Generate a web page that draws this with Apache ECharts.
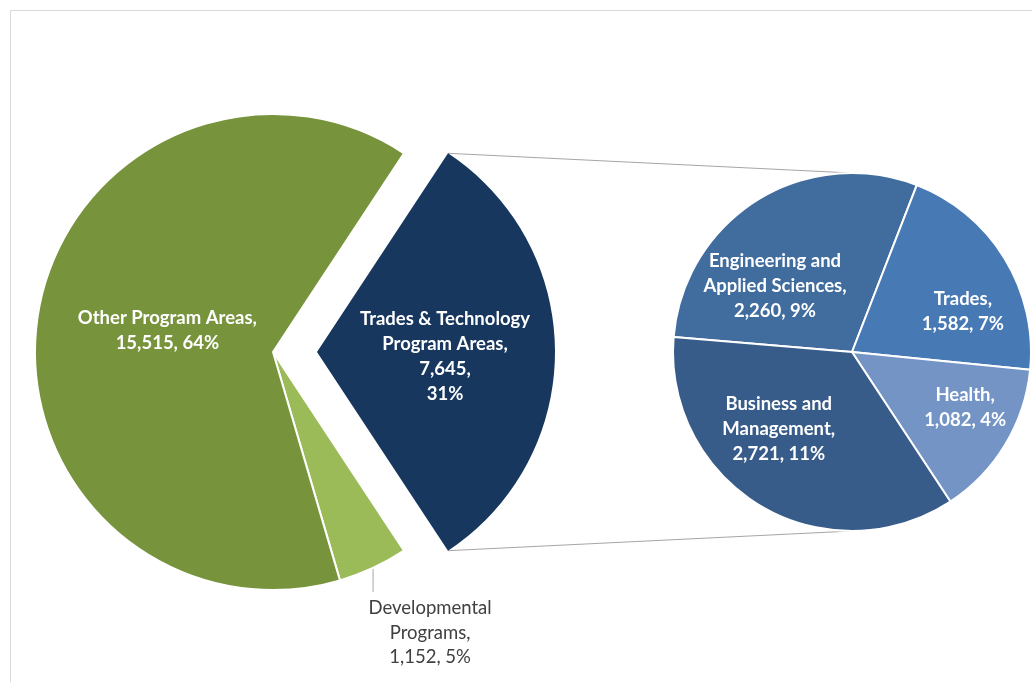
<!DOCTYPE html>
<html>
<head>
<meta charset="utf-8">
<script src="https://cdn.jsdelivr.net/npm/echarts@6/dist/echarts.min.js"></script>
<style>
  html, body { margin: 0; padding: 0; background: #fff; }
  #chart { width: 1032px; height: 682px; }
</style>
</head>
<body>
<div id="chart"></div>
<script>
// main pie (Trades & Technology is broken out into the second pie)
const mainNames = ['Trades & Technology\nProgram Areas', 'Developmental\nPrograms', 'Other Program Areas'];
const mainValues = [7645, 1152, 15515];
// breakdown of Trades & Technology Program Areas
const subNames = ['Engineering and\nApplied Sciences', 'Trades', 'Health', 'Business and\nManagement'];
const subValues = [2260, 1582, 1082, 2721];

const mainColors = ['#17375E', '#9BBB59', '#77933C'];
const subColors = ['#416C9E', '#4779B4', '#7494C6', '#385C8A'];
const mainPctSep = [',\n', ', ', ', '];
const mainLabelOffset = [[0, 0], [0, 0], [15, -3]];
const subLabelOffset = [[-28, 12], [32, 8], [34, 8], [-26, -2]];

const FONT = 'Lato, "Open Sans", sans-serif';
const FSIZE = 18.5;
const total = mainValues.reduce((a, b) => a + b, 0);
const fmt = v => v.toLocaleString('en-US');
const pct = v => Math.round(v / total * 100) + '%';

// layout
const mainCenter = [273, 352], mainR = 238, explode = 44;
const subCenter = [852, 352], subR = 179;
const half = Math.PI * mainValues[0] / total;
const tipX = mainCenter[0] + explode + mainR * Math.cos(half);
const tipDy = mainR * Math.sin(half);

const chart = echarts.init(document.getElementById('chart'));

chart.setOption({
  animation: false,
  backgroundColor: '#fff',
  graphic: [
    {
      type: 'rect', silent: true,
      shape: { x: 10.5, y: 10.5, width: 1200, height: 900 },
      style: { fill: 'none', stroke: '#d9d9d9', lineWidth: 1 }
    },
    {
      type: 'line', silent: true,
      shape: { x1: tipX, y1: mainCenter[1] - tipDy, x2: subCenter[0], y2: subCenter[1] - subR },
      style: { stroke: '#a6a6a6', lineWidth: 1 }
    },
    {
      type: 'line', silent: true,
      shape: { x1: tipX, y1: mainCenter[1] + tipDy, x2: subCenter[0], y2: subCenter[1] + subR },
      style: { stroke: '#a6a6a6', lineWidth: 1 }
    }
  ],
  series: [
    {
      type: 'pie',
      center: mainCenter,
      radius: mainR,
      startAngle: 180 * mainValues[0] / total,
      clockwise: true,
      selectedMode: 'single',
      selectedOffset: explode,
      avoidLabelOverlap: false,
      emphasis: { disabled: true },
      itemStyle: { borderColor: '#fff', borderWidth: 2 },
      label: {
        position: 'inside',
        color: '#fff',
        fontFamily: FONT,
        fontWeight: 'bold',
        fontSize: FSIZE,
        lineHeight: 25,
        align: 'center',
        formatter: p => p.name + ',\n' + fmt(p.value) + mainPctSep[p.dataIndex] + pct(p.value)
      },
      labelLine: { show: false },
      labelLayout: function (p) {
        // exploded slice label nudged a little right/down
        if (p.dataIndex === 0) return { dx: 6, dy: 5 };
        // developmental label sits under a short vertical leader
        if (p.dataIndex !== 1 || !p.labelLinePoints) return {};
        const a = p.labelLinePoints[0];
        return {
          x: a[0] + 57, y: a[1] + 28,
          align: 'center', verticalAlign: 'top',
          labelLinePoints: [a, [a[0], a[1] + 12], [a[0], a[1] + 24]]
        };
      },
      data: mainValues.map((v, i) => ({
        name: mainNames[i],
        value: v,
        selected: i === 0,
        itemStyle: { color: mainColors[i], borderWidth: i === 0 ? 0 : 2 },
        label: i === 1
          ? { position: 'outside', color: '#404040', fontWeight: 'normal', fontSize: FSIZE, lineHeight: 24.5 }
          : { offset: mainLabelOffset[i] },
        labelLine: i === 1
          ? { show: true, length: 12, length2: 12, lineStyle: { color: '#a6a6a6', width: 1 } }
          : { show: false }
      }))
    },
    {
      type: 'pie',
      center: subCenter,
      radius: subR,
      startAngle: 175.2,
      clockwise: true,
      avoidLabelOverlap: false,
      emphasis: { disabled: true },
      itemStyle: { borderColor: '#fff', borderWidth: 2 },
      label: {
        position: 'inside',
        color: '#fff',
        fontFamily: FONT,
        fontWeight: 'bold',
        fontSize: FSIZE,
        lineHeight: 25,
        align: 'center',
        formatter: p => p.name + ',\n' + fmt(p.value) + ', ' + pct(p.value)
      },
      labelLine: { show: false },
      data: subValues.map((v, i) => ({
        name: subNames[i],
        value: v,
        itemStyle: { color: subColors[i] },
        label: { offset: subLabelOffset[i] }
      }))
    }
  ]
});
</script>
</body>
</html>
